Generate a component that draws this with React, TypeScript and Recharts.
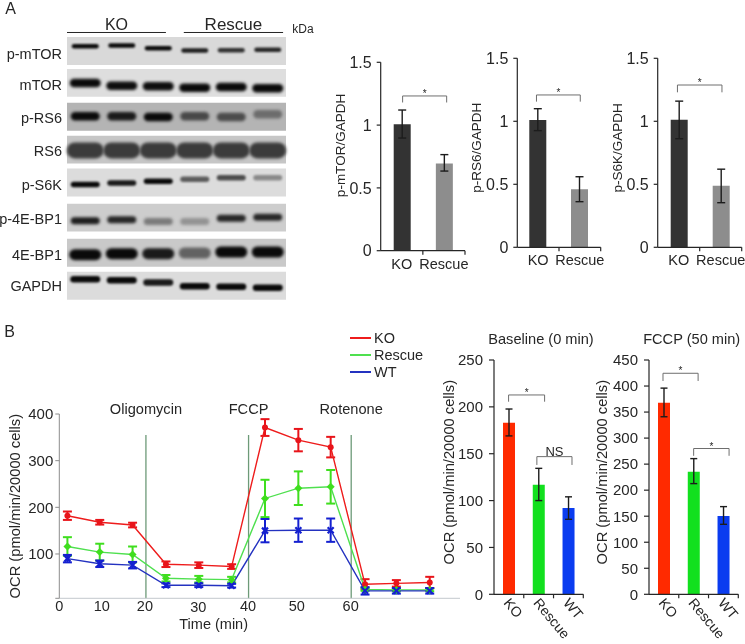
import React from 'react';
import {
  BarChart,
  Bar,
  ErrorBar,
  LineChart,
  Line,
  Legend,
  ReferenceArea,
  ReferenceDot,
  ReferenceLine,
  Scatter,
  ScatterChart,
  XAxis,
  YAxis,
} from 'recharts';

const FONT = '"Liberation Sans", Arial, sans-serif';
const INK = '#262626';

// panel A, blots
const blotRows = ['p-mTOR', 'mTOR', 'p-RS6', 'RS6', 'p-S6K', 'p-4E-BP1', '4E-BP1', 'GAPDH'];
const blotLanes = [1, 2, 3, 4, 5, 6];
const rowStarts = [0, 0.97, 2, 3, 4, 5.07, 6.14, 7.14];
const rowLabelTicks = [0.5, 1.46, 2.47, 3.46, 4.51, 5.54, 6.63, 7.57];
const kdaTicks = [0.26, 1.36, 2.2, 3.15, 4.11, 5.27, 6.3, 7.67];
const kdaLabels = ['300', '300', '37', '37', '75', '20', '20', '37'];
const bandDensity = [
  [1, 1, 1, 0.9, 0.8, 0.85],
  [1, 0.98, 0.98, 1, 1, 1],
  [1, 0.92, 1, 0.68, 0.66, 0.5],
  [0.75, 0.75, 0.75, 0.75, 0.75, 0.75],
  [1, 0.92, 1, 0.58, 0.66, 0.35],
  [0.9, 0.85, 0.42, 0.3, 0.85, 0.85],
  [1, 1, 0.92, 0.55, 1, 1],
  [1, 1, 0.92, 1, 1, 1],
];
const bandMigration = [
  [0.28, 0.26, 0.34, 0.41, 0.4, 0.39],
  [0.43, 0.51, 0.53, 0.57, 0.55, 0.59],
  [0.41, 0.41, 0.43, 0.41, 0.43, 0.35],
  [0.45, 0.45, 0.45, 0.45, 0.45, 0.45],
  [0.49, 0.44, 0.39, 0.33, 0.28, 0.28],
  [0.52, 0.49, 0.54, 0.54, 0.44, 0.41],
  [0.48, 0.45, 0.45, 0.43, 0.4, 0.4],
  [0.23, 0.26, 0.33, 0.44, 0.46, 0.49],
];
const rowShades = ['#d9d9d9', '#dedede', '#b4b4b4', '#c6c6c6', '#dcdcdc', '#cdcdcd', '#c9c9c9', '#dcdcdc'];
const bandThickness = [4.5, 8.5, 8.5, 16, 5.5, 7, 11, 6.5];
const bandLength = [27, 31, 29, 37, 29, 29, 32, 30];

// panel A, densitometry
const pairGroups = ['KO', 'Rescue'];
const pairColors = ['#333333', '#8d8d8d'];
const mtorValues = [1.006, 0.695];
const mtorErrors = [[0.109, 0.114], [0.061, 0.07]];
const rs6Values = [1.01, 0.46];
const rs6Errors = [[0.084, 0.09], [0.098, 0.1]];
const s6kValues = [1.013, 0.489];
const s6kErrors = [[0.151, 0.147], [0.135, 0.131]];

// panel B, time course
const minutes = [4.7, 11, 17.4, 23.9, 30.3, 36.7, 43.2, 49.7, 56, 62.7, 68.8, 75.3];
const koOcr = [182, 168, 162, 78, 76, 73, 371, 344, 329, 35, 37, 39];
const koError = [9, 5, 5, 6, 6, 5, 18, 24, 22, 11, 7, 12];
const rescueOcr = [116, 104, 99, 48, 46, 45, 219, 241, 244, 24, 23, 23];
const rescueError = [20, 18, 17, 7, 7, 6, 40, 36, 36, 3, 3, 3];
const wtOcr = [90, 79, 76, 33, 33, 32, 150, 151, 151, 21, 21, 21];
const wtError = [8, 7, 7, 4, 4, 4, 25, 25, 25, 8, 6, 6];
const timeTicks = [3.12, 11.4, 19.8, 30.2, 39.9, 49.4, 59.9];
const timeLabels = ['0', '10', '20', '30', '40', '50', '60'];
const drugNames = ['Oligomycin', 'FCCP', 'Rotenone'];
const drugMinutes = [20, 40, 60];

// panel B, summaries
const ocrGroups = ['KO', 'Rescue', 'WT'];
const ocrColors = ['#ff2a00', '#12e01e', '#0a3cf0'];
const baselineValues = [183, 117, 92];
const baselineErrors = [[14, 14.7], [17, 17.4], [12, 12]];
const fccpValues = [368, 235.6, 150.4];
const fccpErrors = [[27, 28], [23, 25], [16, 18]];

const bandRows = blotRows.flatMap((row, r) =>
  blotLanes.map((lane, l) => ({
    lane,
    track: rowStarts[r] + bandMigration[r][l],
    density: bandDensity[r][l],
    row: r,
  })),
);

const ocrRows = minutes.map((t, i) => ({
  t,
  ko: koOcr[i],
  koErr: koError[i],
  rescue: rescueOcr[i],
  rescueErr: rescueError[i],
  wt: wtOcr[i],
  wtErr: wtError[i],
}));

function BlotBand({ cx, cy, payload }: any) {
  const w = bandLength[payload.row];
  const h = bandThickness[payload.row];
  const level = Math.round(205 - 195 * payload.density);
  return (
    <rect
      x={cx - w / 2}
      y={cy - h / 2}
      width={w}
      height={h}
      rx={h / 2}
      fill={`rgb(${level},${level},${level})`}
      style={{ filter: `blur(${Math.min(1.6, h * 0.2)}px)` }}
    />
  );
}

function BlotPanel() {
  return (
    <div style={{ position: 'absolute', left: 0, top: 0 }}>
      <ScatterChart width={330} height={310} margin={{ top: 37, right: 0, bottom: 10, left: 0 }}>
        <XAxis type="number" dataKey="lane" domain={[0.5, 6.5]} hide />
        <YAxis
          type="number"
          dataKey="track"
          reversed
          domain={[0, 8]}
          width={67}
          ticks={rowLabelTicks}
          interval={0}
          axisLine={false}
          tickLine={false}
          tickSize={0}
          tickMargin={5}
          tick={{ fill: INK, fontSize: 14.5 }}
          tickFormatter={(v: number) => blotRows[rowLabelTicks.indexOf(v)]}
        />
        <YAxis
          yAxisId="kda"
          orientation="right"
          type="number"
          reversed
          domain={[0, 8]}
          width={44}
          ticks={kdaTicks}
          interval={0}
          axisLine={false}
          tickSize={6}
          tickMargin={1}
          stroke={INK}
          tick={{ fill: INK, fontSize: 13 }}
          tickFormatter={(v: number) => kdaLabels[kdaTicks.indexOf(v)]}
        />
        {blotRows.map((name, r) => (
          <ReferenceArea
            key={name}
            x1={0.5}
            x2={6.5}
            y1={rowStarts[r]}
            y2={rowStarts[r] + 0.85}
            fill={rowShades[r]}
            fillOpacity={1}
            stroke="none"
          />
        ))}
        <ReferenceLine
          segment={[{ x: 0.5, y: -0.137 }, { x: 3.21, y: -0.137 }]}
          stroke={INK}
          ifOverflow="visible"
          label={{ value: 'KO', position: 'top', fontSize: 16, fill: INK, offset: 2 }}
        />
        <ReferenceLine
          segment={[{ x: 3.7, y: -0.137 }, { x: 6.42, y: -0.137 }]}
          stroke={INK}
          ifOverflow="visible"
          label={{ value: 'Rescue', position: 'top', fontSize: 17, fill: INK, offset: 2 }}
        />
        <Scatter data={bandRows} shape={BlotBand} isAnimationActive={false} />
      </ScatterChart>
    </div>
  );
}

function GroupTick({ x, y, payload, band, slanted }: any) {
  return (
    <g>
      <line x1={x + band / 2} x2={x + band / 2} y1={y} y2={y + 4} stroke={INK} strokeWidth={1.2} />
      {slanted ? (
        <text
          x={x - 6}
          y={y + 9}
          fontSize={14}
          fill={INK}
          transform={`rotate(50 ${x - 6} ${y + 9})`}
        >
          {payload.value}
        </text>
      ) : (
        <text x={x} y={y + 18} fontSize={14.5} fill={INK} textAnchor="middle">
          {payload.value}
        </text>
      )}
    </g>
  );
}

function bracketLines(from: number, to: number, y: number, drop: number, text: string) {
  const big = text === 'NS';
  const stroke = { stroke: '#6e6e6e', strokeWidth: 1, ifOverflow: 'visible' as const };
  return [
    <ReferenceLine
      key={`${from}-top`}
      xAxisId="bracket"
      segment={[{ x: from, y }, { x: to, y }]}
      {...stroke}
      label={{
        value: text,
        position: 'top',
        fontSize: big ? 13 : 10,
        fill: INK,
        offset: big ? 1 : -1,
      }}
    />,
    <ReferenceLine key={`${from}-l`} xAxisId="bracket" segment={[{ x: from, y }, { x: from, y: y - drop }]} {...stroke} />,
    <ReferenceLine key={`${from}-r`} xAxisId="bracket" segment={[{ x: to, y }, { x: to, y: y - drop }]} {...stroke} />,
  ];
}

function GroupBars({
  box,
  plot,
  groups,
  colors,
  values,
  errors,
  yMax,
  ticks,
  yLabel,
  labelX,
  labelDy,
  tickSize,
  tickMargin,
  barSize,
  capWidth,
  slanted,
  brackets,
}: any) {
  const rows = groups.map((name: string, i: number) => ({
    name,
    slot: i,
    value: values[i],
    err: errors[i],
    fill: colors[i],
  }));
  const band = (plot.right - plot.left) / groups.length;
  return (
    <div style={{ position: 'absolute', left: box.left, top: box.top }}>
      <BarChart
        width={box.width}
        height={box.height}
        data={rows}
        margin={{
          top: plot.top - box.top,
          right: box.left + box.width - plot.right,
          bottom: box.top + box.height - plot.bottom - 1,
          left: 0,
        }}
      >
        <XAxis
          dataKey="name"
          height={1}
          stroke={INK}
          strokeWidth={1.2}
          tickLine={false}
          tickSize={0}
          tickMargin={0}
          interval={0}
          tick={(p: any) => <GroupTick {...p} band={band} slanted={slanted} />}
        />
        <XAxis
          xAxisId="bracket"
          dataKey="slot"
          type="number"
          scale="linear"
          domain={[0, groups.length]}
          allowDataOverflow
          hide
        />
        <YAxis
          width={plot.left - box.left}
          domain={[0, yMax]}
          ticks={ticks}
          interval={0}
          stroke={INK}
          strokeWidth={1.2}
          tickSize={tickSize}
          tickMargin={tickMargin}
          tick={{ fill: INK, fontSize: tickSize === 4 ? 16 : 15 }}
          label={{
            value: yLabel,
            angle: -90,
            position: 'insideLeft',
            offset: labelX - box.left,
            dy: labelDy,
            textAnchor: 'middle',
            fontSize: slanted ? 14.7 : 13.5,
            fill: INK,
          }}
        />
        <Bar dataKey="value" barSize={barSize} isAnimationActive={false}>
          <ErrorBar dataKey="err" width={capWidth} stroke="#1c1c1c" strokeWidth={1.4} isAnimationActive={false} />
        </Bar>
        {brackets.flatMap((b: any) => bracketLines(b.from, b.to, b.y, b.drop, b.text))}
      </BarChart>
    </div>
  );
}

function Circle({ cx, cy, fill }: any) {
  return <circle cx={cx} cy={cy} r={3} fill={fill} />;
}

function Diamond({ cx, cy, fill }: any) {
  return <path d={`M${cx} ${cy - 4}L${cx + 4} ${cy}L${cx} ${cy + 4}L${cx - 4} ${cy}Z`} fill={fill} />;
}

function Star({ cx, cy, fill }: any) {
  return (
    <path
      d={`M${cx - 3} ${cy - 3}L${cx + 3} ${cy + 3}M${cx + 3} ${cy - 3}L${cx - 3} ${cy + 3}`}
      stroke={fill}
      strokeWidth={2.2}
    />
  );
}

function TimeTick({ x, y, payload }: any) {
  // the 30 sits a little lower than its neighbours in the figure
  const label = timeLabels[timeTicks.indexOf(payload.value)];
  return (
    <text x={x} y={y + (label === '30' ? 14 : 13)} fontSize={14.5} fill={INK} textAnchor="middle">
      {label}
    </text>
  );
}

function SeriesKey({ payload }: any) {
  return (
    <div>
      {payload.map((item: any) => (
        <div key={item.value} style={{ display: 'flex', alignItems: 'center', height: 17.2 }}>
          <span style={{ width: 21, height: 0, borderTop: `2px solid ${item.color}`, marginRight: 3 }} />
          <span style={{ color: INK }}>{item.value}</span>
        </div>
      ))}
    </div>
  );
}

function TimeCourse() {
  const series = [
    { key: 'ko', name: 'KO', err: 'koErr', color: '#ee1c1c', bar: '#e8141a', mark: Circle },
    { key: 'rescue', name: 'Rescue', err: 'rescueErr', color: '#4fe04f', bar: '#3fde1e', mark: Diamond },
    { key: 'wt', name: 'WT', err: 'wtErr', color: '#2432c0', bar: '#1420d0', mark: Star },
  ];
  return (
    <div style={{ position: 'absolute', left: 0, top: 320 }}>
      <LineChart
        width={470}
        height={320}
        data={ocrRows}
        margin={{ top: 94, right: 10, bottom: 40.7, left: 0 }}
      >
        <XAxis
          dataKey="t"
          type="number"
          height={1}
          domain={[3.12, 81.2]}
          ticks={timeTicks}
          interval={0}
          stroke="#c4c9ce"
          tickLine={false}
          tickSize={0}
          tickMargin={0}
          tick={TimeTick}
          label={{ value: 'Time (min)', position: 'insideBottom', offset: -30, dx: -46, fontSize: 14.5, fill: INK }}
        />
        <YAxis
          width={59.3}
          domain={[5, 400]}
          ticks={[5, 100, 200, 300, 400]}
          interval={0}
          allowDataOverflow
          stroke="#8c8c8c"
          tickSize={4}
          tickMargin={2}
          tick={{ fill: INK, fontSize: 15 }}
          tickFormatter={(v: number) => (v === 5 ? '' : String(v))}
          label={{
            value: 'OCR (pmol/min/20000 cells)',
            angle: -90,
            position: 'insideLeft',
            offset: 15,
            dy: 0,
            textAnchor: 'middle',
            fontSize: 14.7,
            fill: INK,
          }}
        />
        {drugMinutes.map((m) => (
          <ReferenceLine
            key={m}
            segment={[{ x: m, y: 5 }, { x: m, y: 355 }]}
            stroke="#6d9a78"
            strokeWidth={1.3}
          />
        ))}
        {drugMinutes.map((m, i) => (
          <ReferenceDot
            key={drugNames[i]}
            x={m}
            y={412}
            r={0}
            ifOverflow="visible"
            label={{ value: drugNames[i], position: 'center', fontSize: 14.6, fill: INK }}
          />
        ))}
        <Legend
          layout="vertical"
          align="center"
          verticalAlign="middle"
          content={SeriesKey}
          wrapperStyle={{ left: 350, top: 9, width: 'auto', fontSize: 14.5 }}
        />
        {series.map((s) => (
          <Line
            key={s.key}
            dataKey={s.key}
            name={s.name}
            legendType="plainline"
            stroke={s.color}
            strokeWidth={1.4}
            isAnimationActive={false}
            dot={(p: any) => <s.mark key={p.index} cx={p.cx} cy={p.cy} fill={s.bar} />}
          >
            <ErrorBar dataKey={s.err} direction="y" width={4.5} stroke={s.bar} strokeWidth={2} isAnimationActive={false} />
          </Line>
        ))}
      </LineChart>
    </div>
  );
}

function Note({ x, y, size, children }: any) {
  return (
    <div
      style={{
        position: 'absolute',
        left: x,
        top: y,
        transform: 'translate(-50%, -50%)',
        fontSize: size,
        lineHeight: 1,
        color: INK,
        whiteSpace: 'nowrap',
      }}
    >
      {children}
    </div>
  );
}

export default function App() {
  return (
    <div
      style={{
        position: 'absolute',
        left: 0,
        top: 0,
        width: 745,
        height: 644,
        background: '#fff',
        fontFamily: FONT,
        overflow: 'hidden',
        filter: 'blur(0.35px)',
      }}
    >
      <Note x={10.5} y={9} size={16}>A</Note>
      <Note x={9.5} y={332} size={16}>B</Note>
      <Note x={303} y={29} size={12}>kDa</Note>
      <Note x={541} y={339} size={14.6}>Baseline (0 min)</Note>
      <Note x={691.7} y={339} size={14.6}>FCCP (50 min)</Note>

      <BlotPanel />

      <GroupBars
        box={{ left: 330, top: 40, width: 140, height: 240 }}
        plot={{ left: 380.7, right: 465, top: 62.3, bottom: 250.7 }}
        groups={pairGroups}
        colors={pairColors}
        values={mtorValues}
        errors={mtorErrors}
        yMax={1.5}
        ticks={[0, 0.5, 1, 1.5]}
        yLabel="p-mTOR/GAPDH"
        labelX={340}
        labelDy={-11}
        tickSize={4}
        tickMargin={5}
        barSize={17}
        capWidth={4}
        brackets={[{ from: 0.52, to: 1.565, y: 1.232, drop: 0.052, text: '*' }]}
      />
      <GroupBars
        box={{ left: 470, top: 40, width: 135, height: 240 }}
        plot={{ left: 517.3, right: 600.7, top: 58.3, bottom: 247.3 }}
        groups={pairGroups}
        colors={pairColors}
        values={rs6Values}
        errors={rs6Errors}
        yMax={1.5}
        ticks={[0, 0.5, 1, 1.5]}
        yLabel="p-RS6/GAPDH"
        labelX={476.7}
        labelDy={-5}
        tickSize={4}
        tickMargin={5}
        barSize={17}
        capWidth={4}
        brackets={[{ from: 0.46, to: 1.51, y: 1.209, drop: 0.053, text: '*' }]}
      />
      <GroupBars
        box={{ left: 605, top: 40, width: 140, height: 240 }}
        plot={{ left: 657.7, right: 741.7, top: 58.3, bottom: 247.3 }}
        groups={pairGroups}
        colors={pairColors}
        values={s6kValues}
        errors={s6kErrors}
        yMax={1.5}
        ticks={[0, 0.5, 1, 1.5]}
        yLabel="p-S6K/GAPDH"
        labelX={617.3}
        labelDy={-5}
        tickSize={4}
        tickMargin={5}
        barSize={17}
        capWidth={4}
        brackets={[{ from: 0.47, to: 1.53, y: 1.288, drop: 0.058, text: '*' }]}
      />

      <TimeCourse />

      <GroupBars
        box={{ left: 440, top: 345, width: 150, height: 299 }}
        plot={{ left: 494, right: 583.3, top: 360, bottom: 594.3 }}
        groups={ocrGroups}
        colors={ocrColors}
        values={baselineValues}
        errors={baselineErrors}
        yMax={250}
        ticks={[0, 50, 100, 150, 200, 250]}
        yLabel="OCR (pmol/min/20000 cells)"
        labelX={449}
        labelDy={-5}
        tickSize={5}
        tickMargin={6}
        barSize={12}
        capWidth={3.5}
        slanted
        brackets={[
          { from: 0.49, to: 1.7, y: 212.7, drop: 7.2, text: '*' },
          { from: 1.44, to: 2.62, y: 146.9, drop: 8.9, text: 'NS' },
        ]}
      />
      <GroupBars
        box={{ left: 595, top: 345, width: 150, height: 299 }}
        plot={{ left: 649, right: 738.3, top: 360, bottom: 594.3 }}
        groups={ocrGroups}
        colors={ocrColors}
        values={fccpValues}
        errors={fccpErrors}
        yMax={450}
        ticks={[0, 50, 100, 150, 200, 250, 300, 350, 400, 450]}
        yLabel="OCR (pmol/min/20000 cells)"
        labelX={601.7}
        labelDy={-5}
        tickSize={5}
        tickMargin={6}
        barSize={12}
        capWidth={3.5}
        slanted
        brackets={[
          { from: 0.47, to: 1.65, y: 424.5, drop: 14.8, text: '*' },
          { from: 1.5, to: 2.69, y: 280, drop: 14, text: '*' },
        ]}
      />
    </div>
  );
}
